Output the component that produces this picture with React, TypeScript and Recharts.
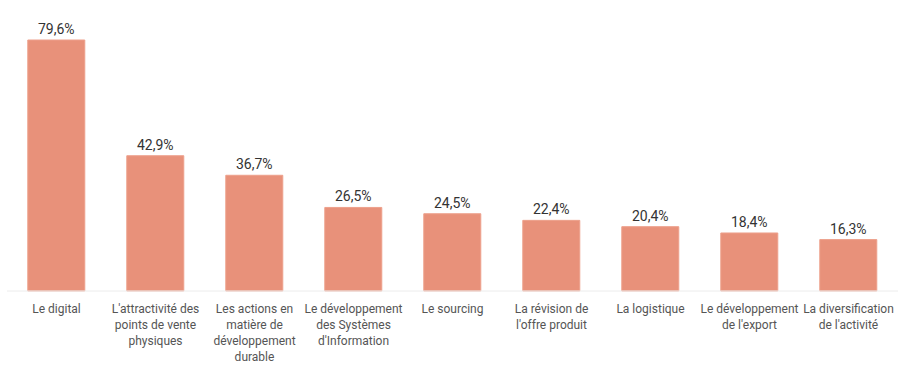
import * as React from "react"
import { BarChart, Bar, XAxis, YAxis, LabelList } from "recharts"

const categories = [
  "Le digital",
  "L'attractivité des\npoints de vente\nphysiques",
  "Les actions en\nmatière de\ndéveloppement\ndurable",
  "Le développement\ndes Systèmes\nd'Information",
  "Le sourcing",
  "La révision de\nl'offre produit",
  "La logistique",
  "Le développement\nde l'export",
  "La diversification\nde l'activité",
]
const values = [79.6, 42.9, 36.7, 26.5, 24.5, 22.4, 20.4, 18.4, 16.3]

const data = categories.map((name, i) => ({ name, value: values[i] }))

const font = "Roboto, 'Noto Sans', sans-serif"

function Tick(props: any) {
  const { x, y, payload } = props
  const lines = String(payload.value).split("\n")
  return (
    <text x={x} y={y} textAnchor="middle" fill="#555" fontSize={12} fontFamily={font}>
      {lines.map((l, i) => (
        <tspan key={i} x={x} dy={i === 0 ? 14 : 16}>{l}</tspan>
      ))}
    </text>
  )
}

export default function App() {
  return (
    <div style={{ width: 906, height: 368 }}>
      <style>{`body{margin:0}`}</style>
      <BarChart width={906} height={368} data={data}
        margin={{ top: 40, right: 8, bottom: 0, left: 7 }} barCategoryGap="21%">
        <XAxis dataKey="name" interval={0} height={77} tickLine={false}
          axisLine={{ stroke: "#ececec" }} tick={<Tick />} />
        <YAxis hide domain={[0, "dataMax"]} />
        <Bar dataKey="value" fill="#E8917A" stroke="#EDA08C" strokeWidth={1} isAnimationActive={false}>
          <LabelList dataKey="value" position="top" offset={6} fill="#333" fontSize={14}
            fontFamily={font} formatter={(v: any) => String(v).replace(".", ",") + "%"} />
        </Bar>
      </BarChart>
    </div>
  )
}
